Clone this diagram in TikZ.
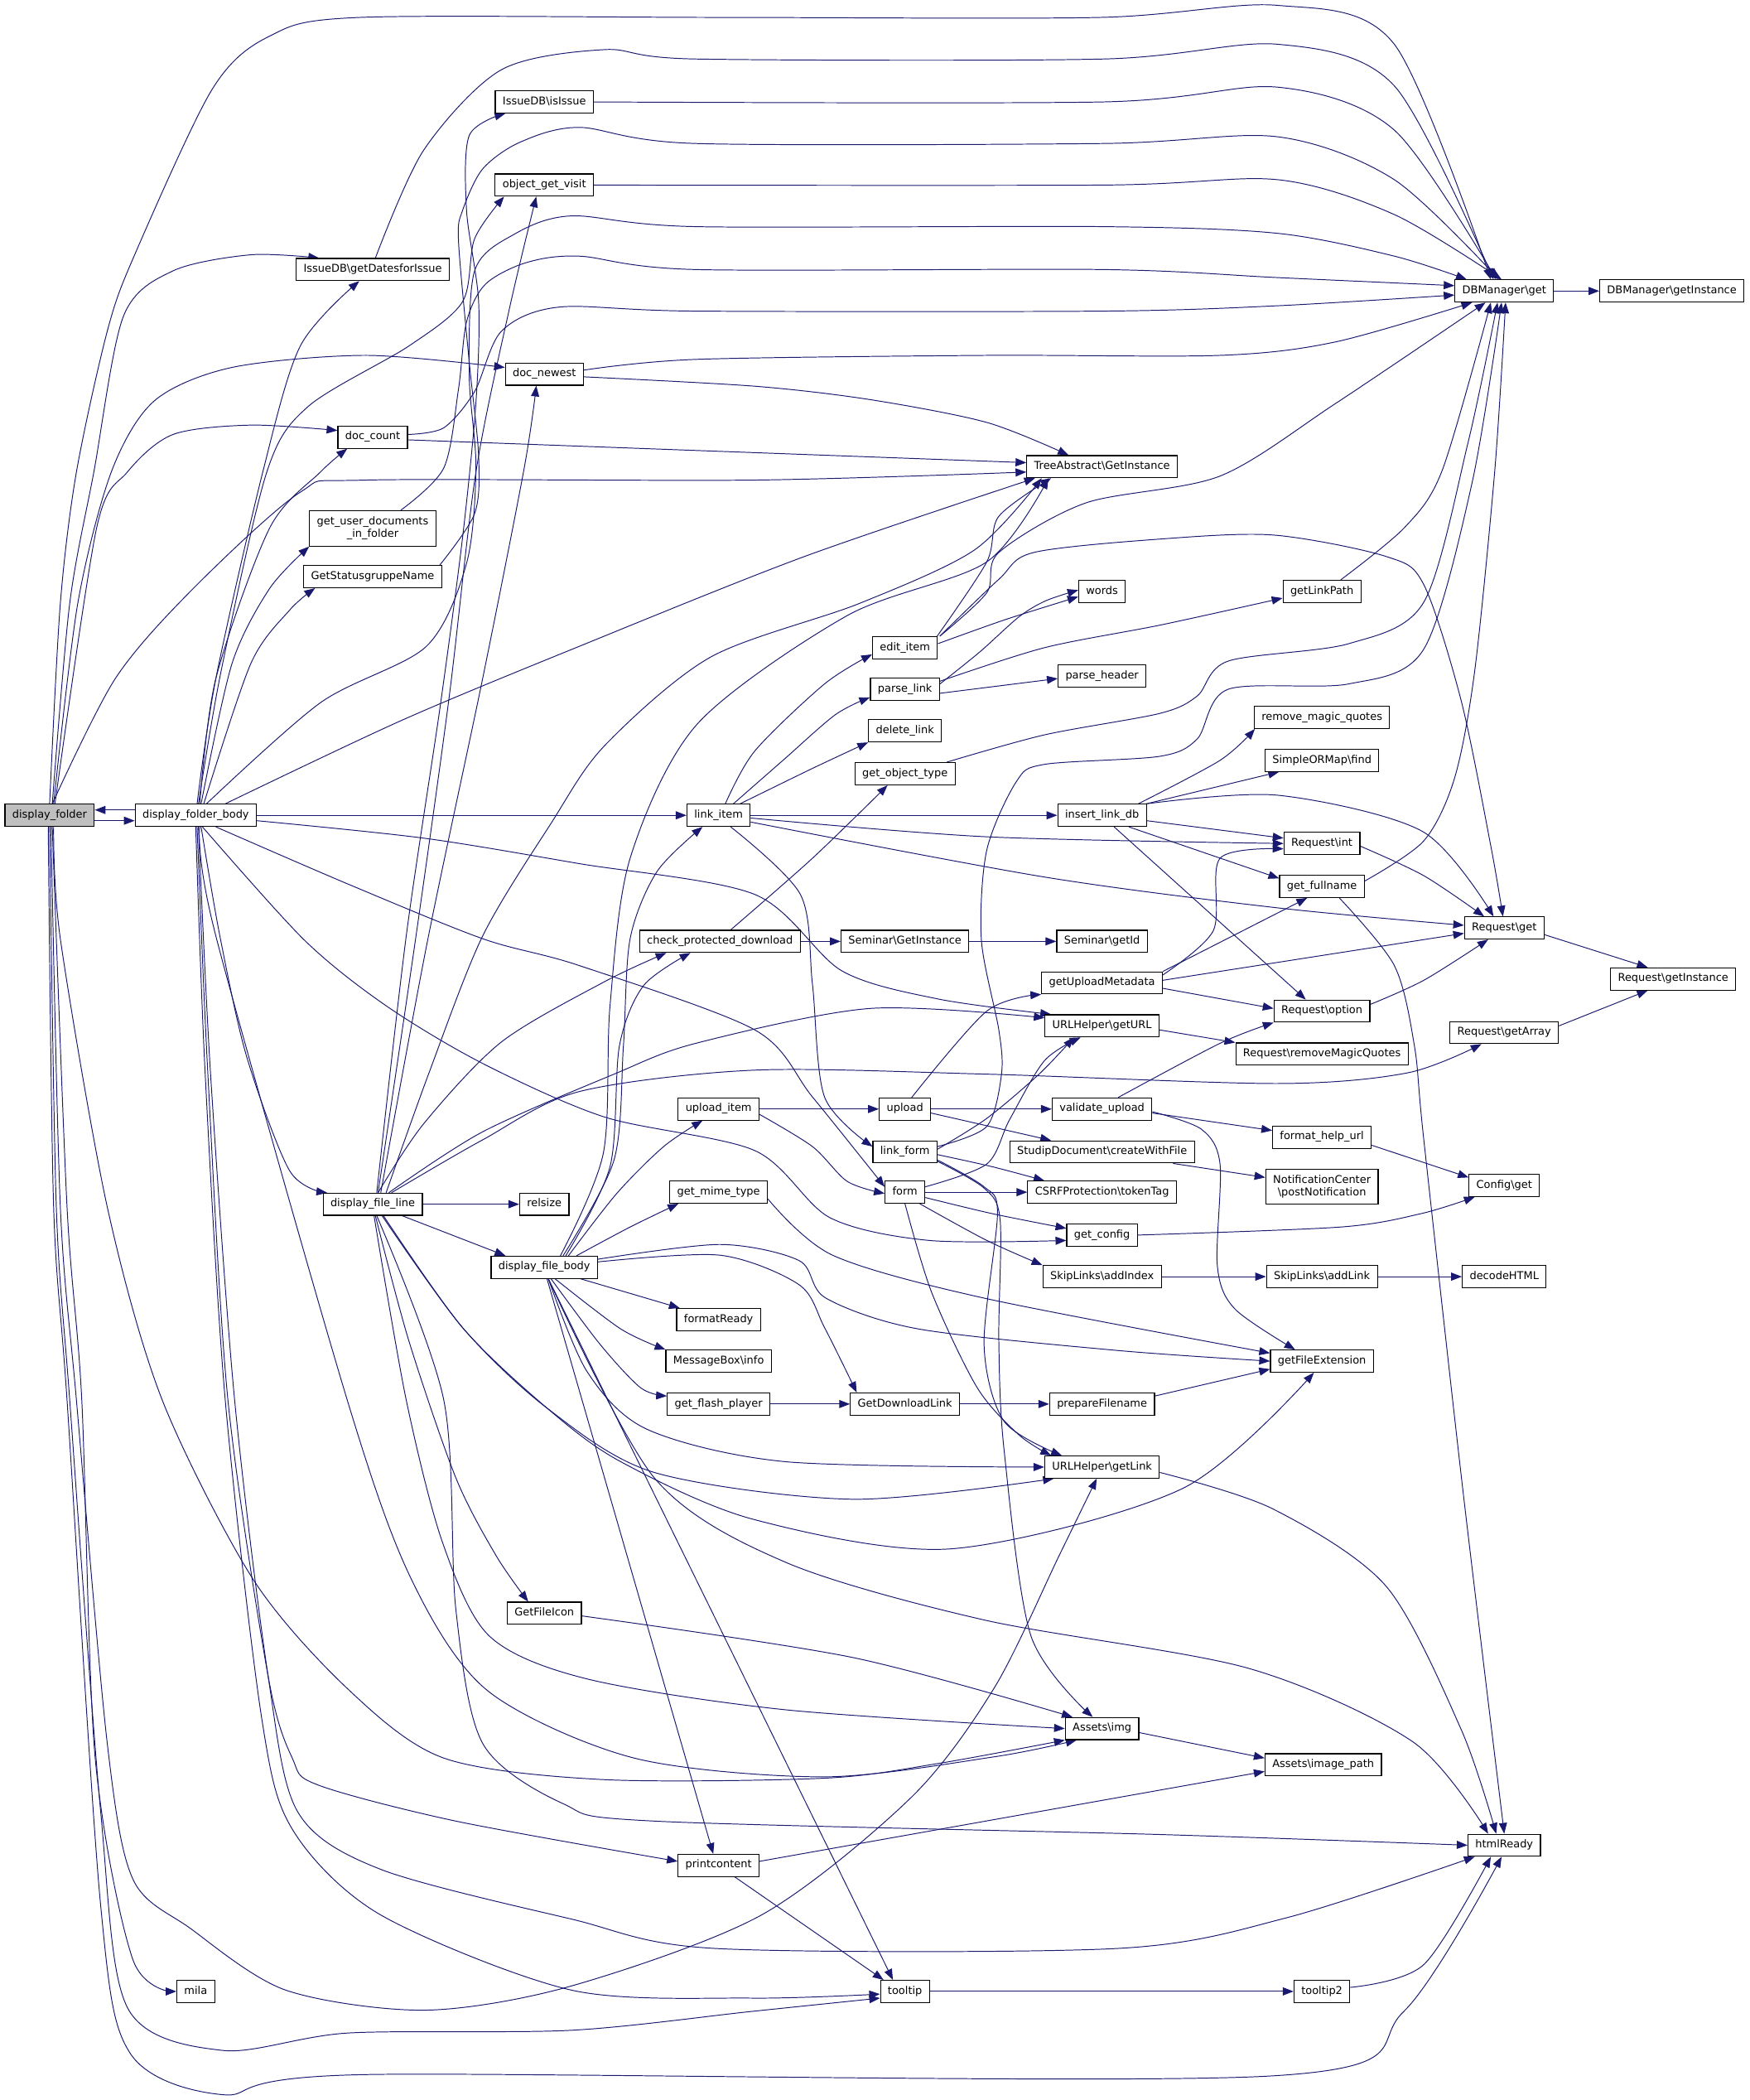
\documentclass[tikz,border=0pt]{standalone}
\usepackage{fontspec}
\setmainfont{DejaVu Sans}
\usetikzlibrary{arrows.meta}
\pgfdeclarelayer{background}
\pgfsetlayers{background,main}
\definecolor{edgeblue}{HTML}{191970}
\definecolor{rootgray}{HTML}{BFBFBF}
\tikzset{
  fnbase/.style={draw=black, fill=white, line width=0.7pt, font=\fontsize{8}{9.5}\selectfont, inner xsep=5.5pt},
  fn/.style={fnbase, inner ysep=0pt, minimum height=16.5pt, text height=6pt, text depth=2pt},
  fntwo/.style={fnbase, inner ysep=4.5pt, align=center},
  callarrow/.style={draw=edgeblue, line width=0.6pt, -{Triangle[length=8pt,width=6pt]}},
  curvy/.style={smooth, tension=0.5}
}

\begin{document}
\begin{tikzpicture}[x=1pt, y=-1pt]
			%%%%% START %%%%%
			\useasboundingbox (0,0) rectangle (1305,1566);
			
			\node[fn, fill=rootgray] (dfold) at (37,608) {display\_folder};
			\node[fn] (dfbody) at (146,608) {display\_folder\_body};
			\node[fn] (mila) at (146,1485) {mila};
			
			\node[fn] (getdates) at (278,201) {IssueDB\textbackslash getDatesforIssue};
			\node[fn] (doccount) at (278,326) {doc\_count};
			\node[fntwo] (userdocs) at (278,394) {get\_user\_documents\\\_in\_folder};
			\node[fn] (statusname) at (278,430) {GetStatusgruppeName};
			\node[fn] (fline) at (278,898) {display\_file\_line};
			
			\node[fn] (isissue) at (406,76) {IssueDB\textbackslash isIssue};
			\node[fn] (objvisit) at (406,138) {object\_get\_visit};
			\node[fn] (docnewest) at (406,279) {doc\_newest};
			\node[fn] (relsize) at (406,898) {relsize};
			\node[fn] (fbody) at (406,945) {display\_file\_body};
			\node[fn] (fileicon) at (406,1203) {GetFileIcon};
			
			\node[fn] (linkitem) at (536,608) {link\_item};
			\node[fn] (checkdl) at (537,702) {check\_protected\_download};
			\node[fn] (uploaditem) at (536,827) {upload\_item};
			\node[fn] (mimetype) at (536,889) {get\_mime\_type};
			\node[fn] (fmtready) at (536,984) {formatReady};
			\node[fn] (msginfo) at (536,1015) {MessageBox\textbackslash info};
			\node[fn] (flash) at (536,1047) {get\_flash\_player};
			\node[fn] (printc) at (536,1391) {printcontent};
			
			\node[fn] (edititem) at (675,483) {edit\_item};
			\node[fn] (parselink) at (675,514) {parse\_link};
			\node[fn] (deletelink) at (675,545) {delete\_link};
			\node[fn] (objtype) at (675,577) {get\_object\_type};
			\node[fn] (seminst) at (675,702) {Seminar\textbackslash GetInstance};
			\node[fn] (upload) at (675,827) {upload};
			\node[fn] (linkform) at (675,859) {link\_form};
			\node[fn] (form) at (675,889) {form};
			\node[fn] (dllink) at (675,1047) {GetDownloadLink};
			\node[fn] (tooltip) at (675,1485) {tooltip};
			
			\node[fn] (treeinst) at (822,348) {TreeAbstract\textbackslash GetInstance};
			\node[fn] (words) at (822,441) {words};
			\node[fn] (parseheader) at (822,504) {parse\_header};
			\node[fn] (insertdb) at (822,608) {insert\_link\_db};
			\node[fn] (semid) at (822,702) {Seminar\textbackslash getId};
			\node[fn] (uploadmeta) at (822,733) {getUploadMetadata};
			\node[fn] (geturl) at (822,765) {URLHelper\textbackslash getURL};
			\node[fn] (validate) at (822,827) {validate\_upload};
			\node[fn] (createfile) at (822,859) {StudipDocument\textbackslash createWithFile};
			\node[fn] (csrf) at (822,889) {CSRFProtection\textbackslash tokenTag};
			\node[fn] (getconfig) at (822,921) {get\_config};
			\node[fn] (addindex) at (822,952) {SkipLinks\textbackslash addIndex};
			\node[fn] (prepname) at (822,1047) {prepareFilename};
			\node[fn] (getlink) at (822,1094) {URLHelper\textbackslash getLink};
			\node[fn] (assetsimg) at (822,1289) {Assets\textbackslash img};
			
			\node[fn] (linkpath) at (986,441) {getLinkPath};
			\node[fn] (rmquotes) at (986,535) {remove\_magic\_quotes};
			\node[fn] (ormfind) at (986,567) {SimpleORMap\textbackslash find};
			\node[fn] (reqint) at (986,629) {Request\textbackslash int};
			\node[fn] (fullname) at (986,661) {get\_fullname};
			\node[fn] (reqoption) at (986,754) {Request\textbackslash option};
			\node[fn] (reqrmq) at (986,786) {Request\textbackslash removeMagicQuotes};
			\node[fn] (helpurl) at (986,848) {format\_help\_url};
			\node[fntwo] (notify) at (986,885) {NotificationCenter\\\textbackslash postNotification};
			\node[fn] (addlink) at (986,952) {SkipLinks\textbackslash addLink};
			\node[fn] (fileext) at (986,1015) {getFileExtension};
			\node[fn] (imgpath) at (987,1316) {Assets\textbackslash image\_path};
			\node[fn] (tooltipb) at (986,1485) {tooltip2};
			
			\node[fn] (dbget) at (1122,217) {DBManager\textbackslash get};
			\node[fn] (reqget) at (1122,692) {Request\textbackslash get};
			\node[fn] (getarray) at (1122,770) {Request\textbackslash getArray};
			\node[fn] (cfgget) at (1122,884) {Config\textbackslash get};
			\node[fn] (decode) at (1122,952) {decodeHTML};
			\node[fn] (htmlready) at (1122,1376) {htmlReady};
			\node[fn] (dbinst) at (1247,217) {DBManager\textbackslash getInstance};
			\node[fn] (reqinst) at (1248,730) {Request\textbackslash getInstance};
			
			\begin{pgfonlayer}{background}
			\fill[white] (0,0) rectangle (1305,1566);
			
			% display_folder
			\draw[callarrow] ([yshift=-4pt]dfold.east) -- ([yshift=-4pt]dfbody.west);
			\draw[callarrow] plot[curvy] coordinates {(dfold.north) (45,450) (57,352) (80,247) (100,191) (158,67) (201,27) (268,13) (540,13) (820,13) (953,4) (1040,33) ([xshift=-10pt]dbget.north)};
			\draw[callarrow] plot[curvy] coordinates {([xshift=2pt]dfold.north) (52,450) (70,352) (92,236) (129,202) (187,190) ([xshift=-40pt]getdates.north)};
			\draw[callarrow] plot[curvy] coordinates {([xshift=3pt]dfold.north) (58,450) (83,352) (115,299) (173,274) (273,265) ([yshift=5pt]docnewest.west)};
			\draw[callarrow] plot[curvy] coordinates {([xshift=4pt]dfold.north) (72,394) (95,352) (129,324) (187,317) ([yshift=5pt]doccount.west)};
			\draw[callarrow] plot[curvy] coordinates {([xshift=2pt]dfold.north) (86,506) (144,439) (224,367) (273,358) (563,358) ([yshift=-4pt]treeinst.west)};
			\draw[callarrow] plot[curvy] coordinates {([xshift=3pt]dfold.south) (45,700) (80,900) (121,1044) (189,1178) (260,1260) (331,1311) (449,1327) (615,1326) (700,1315) (assetsimg.south west)};
			\draw[callarrow] plot[curvy] coordinates {([xshift=1pt]dfold.south) (45,900) (57,1044) (80,1300) (99,1401) (142,1438) (213,1484) (317,1499) (426,1481) (568,1428) (680,1340) (742,1258) (790,1160) ([xshift=-4pt]getlink.south)};
			\draw[callarrow] plot[curvy] coordinates {(dfold.south) (42,900) (52,1044) (75,1350) (95,1497) (166,1529) (260,1516) (426,1514) (560,1500) ([yshift=-5pt]tooltip.west)};
			\draw[callarrow] plot[curvy] coordinates {([xshift=-1pt]dfold.south) (40,900) (50,1044) (75,1420) (97,1531) (166,1562) (274,1547) (949,1548) (1047,1500) ([xshift=-2pt]htmlready.south)};
			\draw[callarrow] plot[curvy] coordinates {([xshift=2pt]dfold.south) (50,900) (61,1044) (71,1311) (99,1461) (mila.west)};
			
			% display_folder_body
			\draw[callarrow] ([yshift=4pt]dfbody.west) -- ([yshift=4pt]dfold.east);
			\draw[callarrow] plot[curvy] coordinates {([xshift=1pt]dfbody.north) (161,506) (196,352) (224,258) ([xshift=-10pt]getdates.south)};
			\draw[callarrow] plot[curvy] coordinates {([xshift=2pt]dfbody.north) (165,500) (199,352) (230,303) (305,258) (345,225) (354,178) ([xshift=-30pt]objvisit.south)};
			\draw[callarrow] plot[curvy] coordinates {([xshift=3pt]dfbody.north) (161,506) (201,394) (239,352) ([xshift=-19pt]doccount.south)};
			\draw[callarrow] plot[curvy] coordinates {([xshift=4pt]dfbody.north) (173,495) (201,439) (userdocs.south west)};
			\draw[callarrow] plot[curvy] coordinates {([xshift=6pt]dfbody.north) (187,495) (216,455) ([xshift=-43pt]statusname.south)};
			\draw[callarrow] plot[curvy] coordinates {([xshift=8pt]dfbody.north) (239,524) (318,482) (348,420) (355,349) (350,280) (354,202) (383,175) (426,161) (519,169) (823,169) (953,174) (1040,191) ([xshift=-28pt]dbget.north)};
			\draw[callarrow] plot[curvy] coordinates {([xshift=22pt]dfbody.north) (300,537) (432,482) (600,415) ([xshift=-50pt]treeinst.south)};
			\draw[callarrow] (dfbody) -- (linkitem);
			\draw[callarrow] plot[curvy] coordinates {([yshift=-4pt]dfbody.east) (316,625) (432,644) (563,667) (628,724) (700,745) ([xshift=-38pt]geturl.north)};
			\draw[callarrow] plot[curvy] coordinates {([xshift=15pt]dfbody.south) (259,659) (360,700) (432,720) (563,768) (606,818) ([yshift=4pt]form.west)};
			\draw[callarrow] plot[curvy] coordinates {([xshift=5pt]dfbody.south) (227,701) (288,750) (360,793) (451,833) (563,858) (619,908) (693,925) ([yshift=-4pt]getconfig.west)};
			\draw[callarrow] plot[curvy] coordinates {([xshift=4pt]dfbody.south) (164,698) (184,788) (216,873) ([xshift=-34pt]fline.north)};
			\draw[callarrow] plot[curvy] coordinates {([xshift=3pt]dfbody.south) (161,698) (259,1044) (307,1178) (364,1261) (473,1311) (615,1325) (742,1310) ([xshift=-19pt]assetsimg.south)};
			\draw[callarrow] plot[curvy] coordinates {([xshift=1pt]dfbody.south) (155,800) (170,1044) (200,1250) (218,1311) (237,1331) (340,1358) ([yshift=3pt]printc.west)};
			\draw[callarrow] plot[curvy] coordinates {([xshift=2pt]dfbody.south) (157,800) (175,1044) (200,1250) (222,1351) (284,1394) (426,1431) (534,1453) (833,1453) (960,1430) ([xshift=-22pt]htmlready.south)};
			\draw[callarrow] plot[curvy] coordinates {(dfbody.south) (153,800) (168,1044) (195,1280) (218,1364) (284,1428) (426,1484) (560,1490) ([yshift=-2pt]tooltip.west)};
			
			% second column
			\draw[callarrow] plot[curvy] coordinates {([xshift=2pt]getdates.north) (316,112) (374,52) (451,37) (519,44) (823,44) (953,33) (1040,64) ([xshift=-8pt]dbget.north)};
			\draw[callarrow] plot[curvy] coordinates {([yshift=2pt]doccount.east) (331,319) (354,292) (374,247) (417,229) (519,232) (823,232) (953,228) ([yshift=-3pt]dbget.west)};
			\draw[callarrow] ([yshift=-2pt]doccount.east) -- ([yshift=3pt]treeinst.west);
			\draw[callarrow] plot[curvy] coordinates {([xshift=21pt]userdocs.north) (331,349) (342,290) (348,240) (362,212) (392,196) (432,191) (519,201) (823,201) (953,207) ([yshift=4pt]dbget.west)};
			\draw[callarrow] plot[curvy] coordinates {([xshift=50pt]statusname.north) (354,383) (357,340) (350,270) (342,180) (345,157) (360,126) (388,106) (432,95) (519,107) (823,107) (953,102) (1040,134) ([xshift=-4pt]dbget.north)};
			
			% display_file_line
			\draw[callarrow] (fline) -- (relsize);
			\draw[callarrow] ([xshift=22pt]fline.south) -- ([xshift=-29pt]fbody.north);
			\draw[callarrow] plot[curvy] coordinates {([xshift=2pt]fline.south) (305,1000) (340,1102) (370,1160) ([xshift=-12pt]fileicon.north)};
			\draw[callarrow] plot[curvy] coordinates {([xshift=3pt]fline.north) (303,698) (328,529) (345,401) (355,300) (357,225) (348,157) (350,101) ([xshift=-29pt]isissue.south)};
			\draw[callarrow] plot[curvy] coordinates {([xshift=4pt]fline.north) (310,700) (335,520) (355,352) (380,230) ([xshift=-6pt]objvisit.south)};
			\draw[callarrow] plot[curvy] coordinates {([xshift=6pt]fline.north) (319,701) (360,506) (391,349) ([xshift=-6pt]docnewest.south)};
			\draw[callarrow] plot[curvy] coordinates {([xshift=10pt]fline.north) (320,800) (360,698) (411,614) (451,556) (530,490) (641,450) (727,410) ([xshift=-45pt]treeinst.south)};
			\draw[callarrow] plot[curvy] coordinates {([xshift=4pt]fline.north) (316,838) (374,777) (451,732) ([xshift=-40pt]checkdl.south)};
			\draw[callarrow] plot[curvy] coordinates {([xshift=12pt]fline.north) (360,844) (458,801) (519,778) (649,752) ([yshift=6pt]geturl.west)};
			\draw[callarrow] plot[curvy] coordinates {([xshift=14pt]fline.north) (360,850) (432,814) (563,798) (736,801) (953,808) (1050,800) ([xshift=-17pt]getarray.south)};
			\draw[callarrow] plot[curvy] coordinates {([xshift=7pt]fline.south) (345,990) (408,1050) (488,1098) (636,1118) ([xshift=-36pt]getlink.south)};
			\draw[callarrow] plot[curvy] coordinates {([xshift=8pt]fline.south) (345,990) (408,1050) (463,1090) (562,1133) (709,1155) (882,1110) ([xshift=-6pt]fileext.south)};
			\draw[callarrow] plot[curvy] coordinates {([xshift=1pt]fline.south) (303,1044) (330,1150) (365,1220) (438,1252) (586,1275) (assetsimg.west)};
			\draw[callarrow] plot[curvy] coordinates {([xshift=3pt]fline.south) (331,1044) (340,1200) (360,1300) (420,1345) (488,1358) (865,1368) (htmlready.west)};
			
			% third column
			\draw[callarrow] plot[curvy] coordinates {(isissue.east) (823,76) (953,65) (1040,97) ([xshift=-6pt]dbget.north)};
			\draw[callarrow] plot[curvy] coordinates {(objvisit.east) (823,138) (953,134) (1040,160) ([xshift=-2pt]dbget.north)};
			\draw[callarrow] plot[curvy] coordinates {([yshift=3pt]docnewest.east) (519,268) (736,265) (910,265) (996,255) ([xshift=-24pt]dbget.south)};
			\draw[callarrow] plot[curvy] coordinates {([yshift=-2pt]docnewest.east) (563,288) (649,298) (736,315) ([xshift=-25pt]treeinst.north)};
			
			% display_file_body
			\draw[callarrow] plot[curvy] coordinates {([xshift=14pt]fbody.north) (458,865) (465,780) (470,700) (490,650) ([xshift=-12pt]linkitem.south)};
			\draw[callarrow] plot[curvy] coordinates {([xshift=16pt]fbody.north) (455,870) (462,780) (480,735) ([xshift=-22pt]checkdl.south)};
			\draw[callarrow] plot[curvy] coordinates {([xshift=18pt]fbody.north) (460,890) (495,855) ([xshift=-12pt]uploaditem.south)};
			\draw[callarrow] plot[curvy] coordinates {([xshift=24pt]fbody.north) (470,915) ([xshift=-30pt]mimetype.south)};
			\draw[callarrow] plot[curvy] coordinates {([xshift=12pt]fbody.north) (450,860) (455,750) (470,640) (520,540) (632,459) (736,419) ([xshift=-40pt]treeinst.south)};
			\draw[callarrow] plot[curvy] coordinates {([yshift=6pt]fbody.east) (537,928) (596,940) (616,968) (685,991) (833,1007) (fileext.west)};
			\draw[callarrow] plot[curvy] coordinates {([yshift=4pt]fbody.east) (537,936) (596,958) (615,990) ([xshift=-36pt]dllink.north)};
			\draw[callarrow] ([xshift=27pt]fbody.south) -- ([xshift=-29pt]fmtready.north);
			\draw[callarrow] plot[curvy] coordinates {([xshift=8pt]fbody.south) (463,991) (msginfo.north west)};
			\draw[callarrow] plot[curvy] coordinates {([xshift=5pt]fbody.south) (448,1003) (478,1035) ([yshift=6pt]flash.west)};
			\draw[callarrow] plot[curvy] coordinates {([xshift=3pt]fbody.south) (438,1023) (483,1066) (586,1090) (getlink.west)};
			\draw[callarrow] plot[curvy] coordinates {([xshift=3pt]fbody.south) (488,1102) (586,1165) (734,1208) (931,1244) (1054,1299) ([xshift=-12pt]htmlready.north)};
			\draw[callarrow] ([xshift=2pt]fbody.south) -- ([xshift=-4pt]printc.north);
			\draw[callarrow] ([xshift=3pt]fbody.south) -- ([xshift=-9pt]tooltip.north);
			\draw[callarrow] plot[curvy] coordinates {([yshift=-2pt]fileicon.east) (636,1236) ([xshift=-22pt]assetsimg.north)};
			
			% link_item and neighbours
			\draw[callarrow] plot[curvy] coordinates {([xshift=5pt]linkitem.north) (563,560) (615,510) ([yshift=-5pt]edititem.west)};
			\draw[callarrow] plot[curvy] coordinates {([xshift=11pt]linkitem.north) (584,567) (623,533) ([yshift=-6pt]parselink.west)};
			\draw[callarrow] plot[curvy] coordinates {([xshift=16pt]linkitem.north) (606,573) (deletelink.south west)};
			\draw[callarrow] (linkitem) -- (insertdb);
			\draw[callarrow] plot[curvy] coordinates {([yshift=-2pt]linkitem.east) (736,624) (reqint.west)};
			\draw[callarrow] plot[curvy] coordinates {([yshift=-5pt]linkitem.east) (779,654) (953,677) ([yshift=2pt]reqget.west)};
			\draw[callarrow] plot[curvy] coordinates {([xshift=9pt]linkitem.south) (597,667) (606,734) (615,818) ([yshift=4pt]linkform.west)};
			\draw[callarrow] plot[curvy] coordinates {([xshift=8pt]checkdl.north) (606,640) ([xshift=-13pt]objtype.south)};
			\draw[callarrow] (checkdl) -- (seminst);
			\draw[callarrow] (seminst) -- (semid);
			\draw[callarrow] (uploaditem) -- (upload);
			\draw[callarrow] plot[curvy] coordinates {([yshift=-4pt]uploaditem.east) (606,855) (632,881) ([yshift=-1pt]form.west)};
			\draw[callarrow] plot[curvy] coordinates {([yshift=-5pt]mimetype.east) (621,936) (734,968) ([yshift=6pt]fileext.west)};
			\draw[callarrow] (flash) -- (dllink);
			\draw[callarrow] ([yshift=3pt]printc.east) -- ([yshift=-5pt]imgpath.west);
			\draw[callarrow] ([xshift=12pt]printc.south) -- ([xshift=-16pt]tooltip.north);
			
			% fifth column
			\draw[callarrow] plot[curvy] coordinates {([xshift=24pt]edititem.north) (736,419) (745,385) ([xshift=-38pt]treeinst.south)};
			\draw[callarrow] plot[curvy] coordinates {([xshift=26pt]edititem.north) (736,442) (745,412) (810,375) (910,355) (996,301) ([xshift=-14pt]dbget.south)};
			\draw[callarrow] plot[curvy] coordinates {([xshift=26pt]edititem.north) (745,432) (771,412) (865,402) (950,399) (1034,415) (1062,436) (1090,523) (1112,631) ([xshift=-1pt]reqget.north)};
			\draw[callarrow] plot[curvy] coordinates {([yshift=3pt]edititem.east) (750,462) ([yshift=-4pt]words.west)};
			\draw[callarrow] plot[curvy] coordinates {([yshift=4pt]parselink.east) (731,486) (760,460) (780,448) ([yshift=1pt]words.west)};
			\draw[callarrow] plot[curvy] coordinates {([yshift=6pt]parselink.east) (779,483) (866,466) ([yshift=-5pt]linkpath.west)};
			\draw[callarrow] ([yshift=-3pt]parselink.east) -- ([yshift=-2pt]parseheader.west);
			\draw[callarrow] plot[curvy] coordinates {([xshift=31pt]objtype.north) (779,548) (865,532) (893,519) (916,493) (1006,480) (1062,449) (1095,330) ([xshift=-5pt]dbget.south)};
			\draw[callarrow] plot[curvy] coordinates {([yshift=4pt]linkform.east) (736,840) (747,801) (745,768) (732,701) (736,634) (758,583) (779,570) (865,564) (893,551) (916,514) (1006,510) (1062,484) (1098,360) ([xshift=-2pt]dbget.south)};
			\draw[callarrow] plot[curvy] coordinates {([yshift=2pt]linkform.east) (736,834) (775,801) ([xshift=-21pt]geturl.south)};
			\draw[callarrow] plot[curvy] coordinates {([yshift=-2pt]linkform.east) (740,870) ([xshift=-43pt]csrf.north)};
			\draw[callarrow] plot[curvy] coordinates {([yshift=-6pt]linkform.east) (734,885) (744,905) (734,1003) (749,1060) ([xshift=-30pt]getlink.north)};
			\draw[callarrow] plot[curvy] coordinates {([yshift=-7pt]linkform.east) (734,886) (746,910) (745,1000) (749,1082) (769,1220) ([xshift=-7pt]assetsimg.north)};
			\draw[callarrow] plot[curvy] coordinates {([yshift=4pt]form.east) (736,868) (753,835) (779,791) ([xshift=-16pt]geturl.south)};
			\draw[callarrow] (form) -- (csrf);
			\draw[callarrow] plot[curvy] coordinates {([yshift=-4pt]form.east) (740,905) ([yshift=5pt]getconfig.west)};
			\draw[callarrow] plot[curvy] coordinates {([xshift=11pt]form.south) (736,925) (addindex.north west)};
			\draw[callarrow] plot[curvy] coordinates {(form.south) (695,964) (729,1035) (760,1070) ([xshift=-38pt]getlink.north)};
			\draw[callarrow] plot[curvy] coordinates {([xshift=5pt]upload.north) (736,754) (uploadmeta.south west)};
			\draw[callarrow] (upload) -- (validate);
			\draw[callarrow] ([yshift=-3pt]upload.east) -- ([xshift=-38pt]createfile.north);
			\draw[callarrow] (dllink) -- (prepname);
			\draw[callarrow] (tooltip) -- (tooltipb);
			
			% sixth column
			\draw[callarrow] plot[curvy] coordinates {([xshift=27pt]insertdb.north) (910,567) ([xshift=-50pt]rmquotes.south)};
			\draw[callarrow] ([xshift=33pt]insertdb.north) -- ([xshift=-32pt]ormfind.south);
			\draw[callarrow] plot[curvy] coordinates {([xshift=33pt]insertdb.north) (953,593) (1061,620) ([xshift=-8pt]reqget.north)};
			\draw[callarrow] ([yshift=-4pt]insertdb.east) -- ([yshift=4pt]reqint.west);
			\draw[callarrow] ([xshift=20pt]insertdb.south) -- ([yshift=6pt]fullname.west);
			\draw[callarrow] ([xshift=9pt]insertdb.south) -- ([xshift=-12pt]reqoption.north);
			\draw[callarrow] (uploadmeta.north east) -- ([xshift=-11pt]fullname.south);
			\draw[callarrow] plot[curvy] coordinates {([yshift=6pt]uploadmeta.east) (905,694) (910,640) ([yshift=-4pt]reqint.west)};
			\draw[callarrow] ([yshift=2pt]uploadmeta.east) -- ([yshift=-4pt]reqget.west);
			\draw[callarrow] ([yshift=-4pt]uploadmeta.east) -- ([yshift=2pt]reqoption.west);
			\draw[callarrow] ([yshift=-3pt]geturl.east) -- (reqrmq.north west);
			\draw[callarrow] plot[curvy] coordinates {([xshift=12pt]validate.north) (910,778) (reqoption.south west)};
			\draw[callarrow] ([yshift=-3pt]validate.east) -- ([yshift=5pt]helpurl.west);
			\draw[callarrow] plot[curvy] coordinates {([yshift=-2pt]validate.east) (896,842) (910,868) (908,944) (921,976) ([xshift=-20pt]fileext.north)};
			\draw[callarrow] ([xshift=53pt]createfile.south) -- ([yshift=7pt]notify.west);
			\draw[callarrow] plot[curvy] coordinates {(getconfig.east) (1000,915) (1060,905) ([xshift=-22pt]cfgget.south)};
			\draw[callarrow] (addindex) -- (addlink);
			\draw[callarrow] ([yshift=6pt]prepname.east) -- ([yshift=-6pt]fileext.west);
			\draw[callarrow] plot[curvy] coordinates {([yshift=-4pt]getlink.east) (949,1125) (1034,1183) (1090,1290) ([xshift=-6pt]htmlready.north)};
			\draw[callarrow] ([yshift=-3pt]assetsimg.east) -- ([yshift=5pt]imgpath.west);
			
			% seventh column
			\draw[callarrow] plot[curvy] coordinates {([xshift=14pt]linkpath.north) (1048,393) (1076,350) ([xshift=-10pt]dbget.south)};
			\draw[callarrow] plot[curvy] coordinates {([yshift=4pt]fullname.east) (1062,627) (1085,580) (1100,500) (1115,350) ([xshift=1pt]dbget.south)};
			\draw[callarrow] plot[curvy] coordinates {([xshift=13pt]fullname.south) (1040,720) (1055,780) (1062,850) (1091,1110) (htmlready.north)};
			\draw[callarrow] plot[curvy] coordinates {([yshift=-2pt]reqint.east) (1062,653) ([xshift=-15pt]reqget.north)};
			\draw[callarrow] plot[curvy] coordinates {([yshift=5pt]reqoption.east) (1062,731) ([xshift=-12pt]reqget.south)};
			\draw[callarrow] ([yshift=-6pt]helpurl.east) -- ([yshift=6pt]cfgget.west);
			\draw[callarrow] (addlink) -- (decode);
			\draw[callarrow] plot[curvy] coordinates {([yshift=3pt]tooltipb.east) (1062,1465) ([xshift=-10pt]htmlready.south)};
			
			% right end
			\draw[callarrow] (dbget) -- (dbinst);
			\draw[callarrow] ([yshift=-5pt]reqget.east) -- ([xshift=-19pt]reqinst.north);
			\draw[callarrow] ([yshift=5pt]getarray.east) -- ([xshift=-19pt]reqinst.south);
			\end{pgfonlayer}
			
			%%%%% END %%%%%
\end{tikzpicture}
\end{document}
